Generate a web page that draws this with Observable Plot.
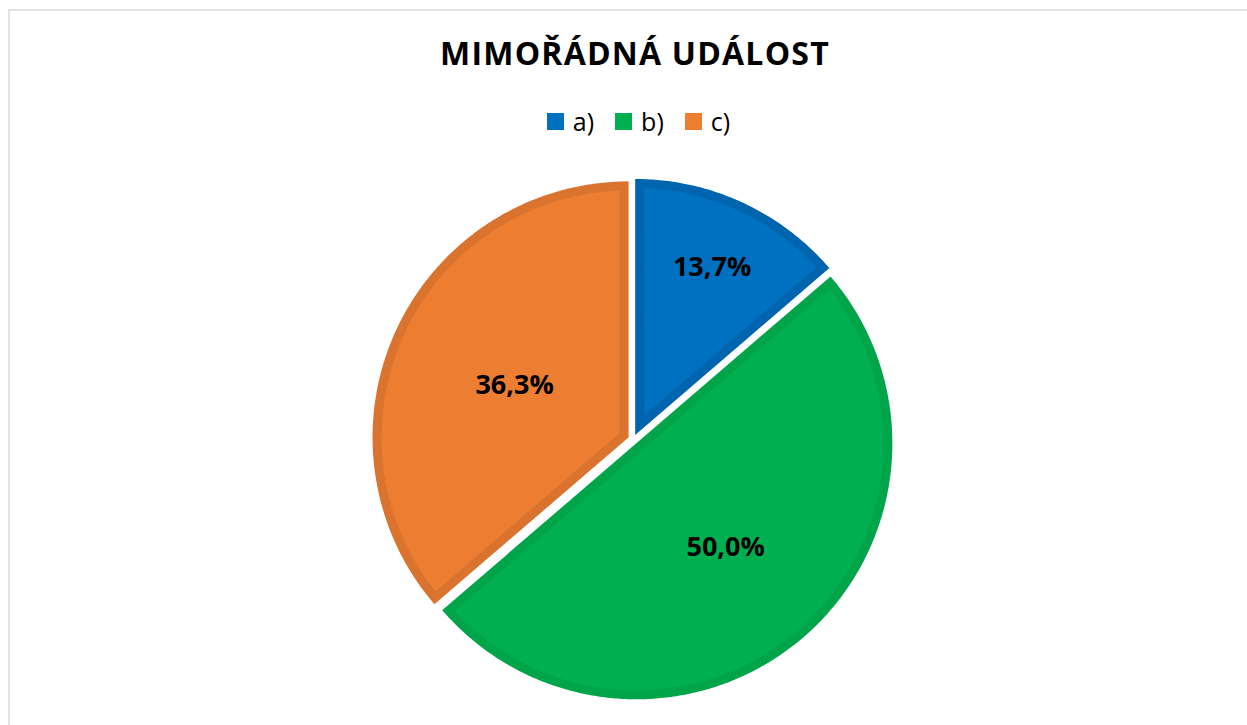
<!DOCTYPE html>
<html>
<head>
<meta charset="utf-8">
<script src="https://cdn.jsdelivr.net/npm/d3@7"></script>
<script src="https://cdn.jsdelivr.net/npm/@observablehq/plot@0.6"></script>
<style>
  html, body { margin: 0; padding: 0; background: #fff; width: 1247px; height: 725px; overflow: hidden; }
  #frame { position: absolute; left: 8px; top: 9px; width: 1400px; height: 900px; border: 2px solid #e2e2e2; box-sizing: border-box; }
  #title { position: absolute; left: 0; width: 1270px; top: 37px; text-align: center; font-family: "Open Sans", sans-serif; font-weight: 700; font-size: 32px; line-height: 32px; letter-spacing: 1.2px; color: #000; }
  #legend { position: absolute; left: 0; width: 1277px; top: 109px; display: flex; justify-content: center; font-family: "Open Sans", sans-serif; font-size: 25px; line-height: 25px; color: #000; }
  .item { display: flex; align-items: center; margin: 0 10.5px; }
  .sw { width: 17px; height: 17px; margin-right: 9px; }
  #chart { position: absolute; left: 0; top: 0; }
</style>
</head>
<body>
<div id="frame"></div>
<div id="chart"></div>
<div id="title">MIMOŘÁDNÁ UDÁLOST</div>
<div id="legend"></div>
<script>
const categories = ["a)", "b)", "c)"];
const values = [13.7, 50.0, 36.3];
const labels = ["13,7%", "50,0%", "36,3%"];
const fills = ["#0070C0", "#00B050", "#ED7D31"];
const strokes = ["#0064AE", "#00A54A", "#DA732D"];

// legend
const legend = document.getElementById("legend");
categories.forEach((c, i) => {
  const it = document.createElement("div");
  it.className = "item";
  it.innerHTML = `<div class="sw" style="background:${fills[i]}"></div><span>${c}</span>`;
  legend.appendChild(it);
});

const W = 1247, H = 725;
const R = 256;            // outer radius in px (unit radius = 1)
const cx = 632.6, cy = 439;
const explode = 5 / R;    // explosion offset in unit radius
const sw = 9;             // border width px
const h = (sw / 2) / R;   // inset so that the border stays inside the slice outline
const labelR = [0.72, 0.535, 0.49];

const pie = d3.pie().sort(null).value(d => d)(values);

const polys = [];
const labelPts = [];
pie.forEach((p, i) => {
  const mid = (p.startAngle + p.endAngle) / 2;
  const half = (p.endAngle - p.startAngle) / 2;
  const ox = explode * Math.sin(mid), oy = -explode * Math.cos(mid);
  const ad = h / Math.sin(Math.min(half, Math.PI / 2));
  const pts = [{k: i, x: ox + ad * Math.sin(mid), y: oy - ad * Math.cos(mid)}];
  const rr = 1 - h;
  const da = Math.asin(h / rr);
  const a0 = p.startAngle + da, a1 = p.endAngle - da;
  const n = Math.max(8, Math.ceil((a1 - a0) / 0.01));
  for (let j = 0; j <= n; j++) {
    const a = a0 + (a1 - a0) * j / n;
    pts.push({k: i, x: ox + rr * Math.sin(a), y: oy - rr * Math.cos(a)});
  }
  polys.push(pts);
  labelPts.push({x: ox + labelR[i] * Math.sin(mid), y: oy - labelR[i] * Math.cos(mid), label: labels[i]});
});

const chart = Plot.plot({
  width: W,
  height: H,
  margin: 0,
  x: {domain: [-cx / R, (W - cx) / R], range: [0, W], axis: null},
  y: {domain: [-cy / R, (H - cy) / R], range: [0, H], axis: null},
  marks: [
    ...polys.map((pts, i) => Plot.line(pts, {
      x: "x", y: "y", curve: "linear-closed",
      fill: fills[i], stroke: strokes[i], strokeWidth: sw, strokeLinejoin: "miter", strokeMiterlimit: 10
    })),
    Plot.text(labelPts, {
      x: "x", y: "y", text: "label",
      fontSize: 27, fontWeight: 700, fontFamily: "Open Sans, sans-serif", fill: "#000"
    })
  ],
  style: {background: "transparent", overflow: "visible"}
});
document.getElementById("chart").appendChild(chart);
</script>
</body>
</html>
